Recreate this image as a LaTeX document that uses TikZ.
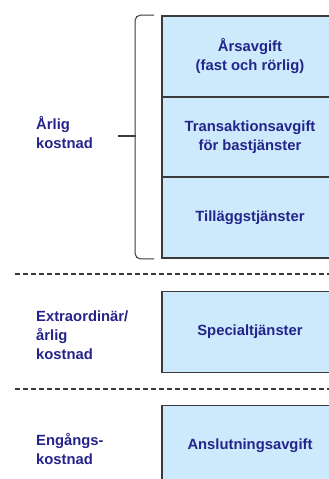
\documentclass[tikz,border=0pt]{standalone}
\usepackage{fontspec}
\setmainfont{Liberation Sans}
\definecolor{boxblue}{HTML}{CCEAFB}
\definecolor{boxline}{HTML}{3A3A3A}
\definecolor{navy}{HTML}{24248A}
\tikzset{
  costbox/.style={draw=boxline, fill=boxblue, line width=1.6pt,
    minimum width=176pt, minimum height=81pt, align=center,
    text=navy, font=\fontsize{14.8pt}{19pt}\selectfont\bfseries},
  costlabel/.style={anchor=west, align=left, text=navy, inner sep=0pt,
    font=\fontsize{14.8pt}{19pt}\selectfont\bfseries},
  divider/.style={draw=boxline, line width=1.2pt, dash pattern=on 5pt off 3pt}
}
\begin{document}
\begin{tikzpicture}[x=1pt, y=-1pt]
  \clip (0,0) rectangle (329,479);
  % kostnadsposter
  \node[costbox] (arsavgift) at (250,56.5) {Årsavgift\\(fast och rörlig)};
  \node[costbox] (transaktion) at (250,137.5) {Transaktionsavgift\\för bastjänster};
  \node[costbox] (tillagg) at (250,217.5) {Tilläggstjänster};
  \node[costbox] (special) at (250,332) {Specialtjänster};
  \node[costbox] (anslutning) at (250,446) {Anslutningsavgift};
  % kostnadstyper
  \node[costlabel] (arlig) at (36,133) {Årlig\\kostnad};
  \node[costlabel] (extra) at (36,335) {Extraordinär/\\årlig\\kostnad};
  \node[costlabel] (engangs) at (36,449) {Engångs-\\kostnad};
  % klammer
  \coordinate (btop) at ([xshift=-7pt]arsavgift.north west);
  \coordinate (bbot) at ([xshift=-7pt]tillagg.south west);
  \coordinate (btip) at (118,136);
  \draw[line width=1pt, boxline, rounded corners=5pt]
    (btop) -- ++(-19,0) |- (bbot);
  \draw[line width=1.4pt, boxline] (btip) -- ++(18,0);
  % avdelare
  \draw[divider] (15,274) -- (335,274);
  \draw[divider] (15,389) -- (335,389);
\end{tikzpicture}
\end{document}
